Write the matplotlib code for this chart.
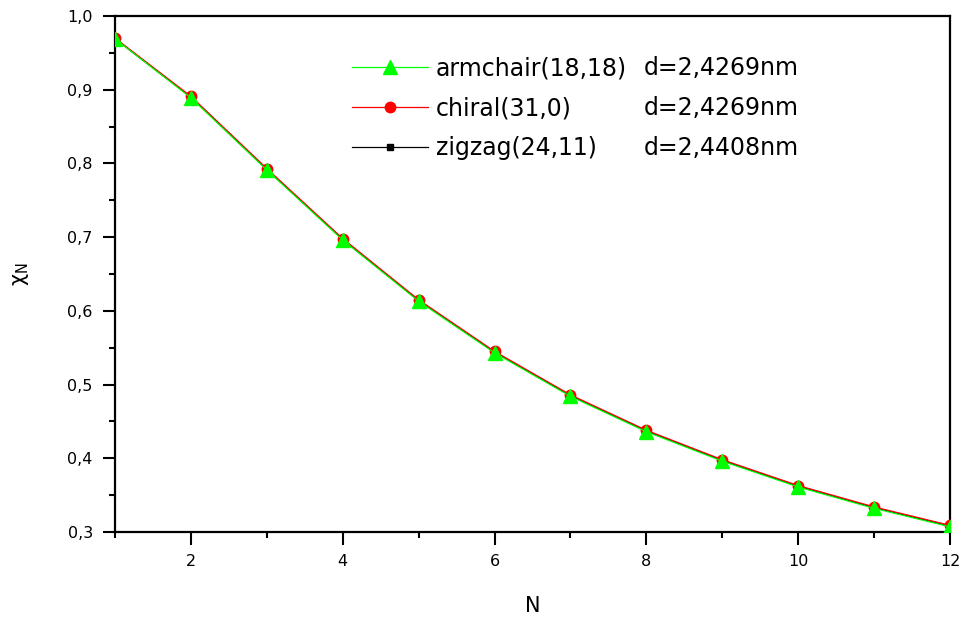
import matplotlib
matplotlib.use("Agg")
import matplotlib.pyplot as plt
from matplotlib.ticker import MultipleLocator, FuncFormatter

plt.rcParams["font.family"] = ["DejaVu Sans"]

N = list(range(1, 13))
armchair = [0.969, 0.889, 0.791, 0.696, 0.613, 0.543, 0.484, 0.436, 0.396, 0.361, 0.332, 0.307]
chiral = [0.970, 0.891, 0.793, 0.698, 0.615, 0.545, 0.486, 0.438, 0.398, 0.363, 0.334, 0.309]
zigzag = [0.969, 0.890, 0.792, 0.697, 0.614, 0.544, 0.485, 0.437, 0.397, 0.362, 0.333, 0.308]
names = ["armchair(18,18)", "chiral(31,0)", "zigzag(24,11)"]
diams = ["d=2,4269nm", "d=2,4269nm", "d=2,4408nm"]

fig = plt.figure(figsize=(9.61, 6.17), dpi=100)
ax = fig.add_axes([0.1197, 0.1378, 0.8689, 0.8363])

# black at the bottom, green on top, as in the original
lz, = ax.plot(N, zigzag, "-s", color="black", lw=0.9, ms=5, zorder=2)
lc, = ax.plot(N, chiral, "-o", color="#ff0000", lw=0.9, ms=7.5, zorder=3)
la, = ax.plot(N, armchair, "-^", color="#00ff00", lw=0.9, ms=9.5, zorder=4)

ax.set_xlim(1, 12)
ax.set_ylim(0.3, 1.0)
ax.xaxis.set_major_locator(MultipleLocator(2))
ax.xaxis.set_minor_locator(MultipleLocator(1))
ax.yaxis.set_major_locator(MultipleLocator(0.1))
ax.yaxis.set_minor_locator(MultipleLocator(0.05))
ax.yaxis.set_major_formatter(FuncFormatter(lambda v, p: f"{v:.1f}".replace(".", ",")))
ax.tick_params(which="major", direction="out", length=9, width=1.5, labelsize=11.5, pad=7)
ax.tick_params(which="minor", direction="out", length=4, width=1.5)
for s in ax.spines.values():
    s.set_linewidth(1.6)

ax.set_xlabel("N", fontsize=15, labelpad=19)
ax.set_ylabel(r"χ$_\mathregular{N}$", fontsize=15, labelpad=26)

leg = ax.legend([la, lc, lz], names, loc="upper left", bbox_to_anchor=(0.284, 0.922),
                frameon=False, fontsize=17, handlelength=3.2, handletextpad=0.34,
                labelspacing=0.67, borderaxespad=0, borderpad=0)
fig.canvas.draw()
# diameter column, aligned with the legend rows
for txt, d in zip(leg.get_texts(), diams):
    bb = txt.get_window_extent().transformed(ax.transAxes.inverted())
    ax.text(0.633, (bb.y0 + bb.y1) / 2, d, transform=ax.transAxes,
            fontsize=17, va="center", ha="left")

fig.savefig("out.png", dpi=100)
